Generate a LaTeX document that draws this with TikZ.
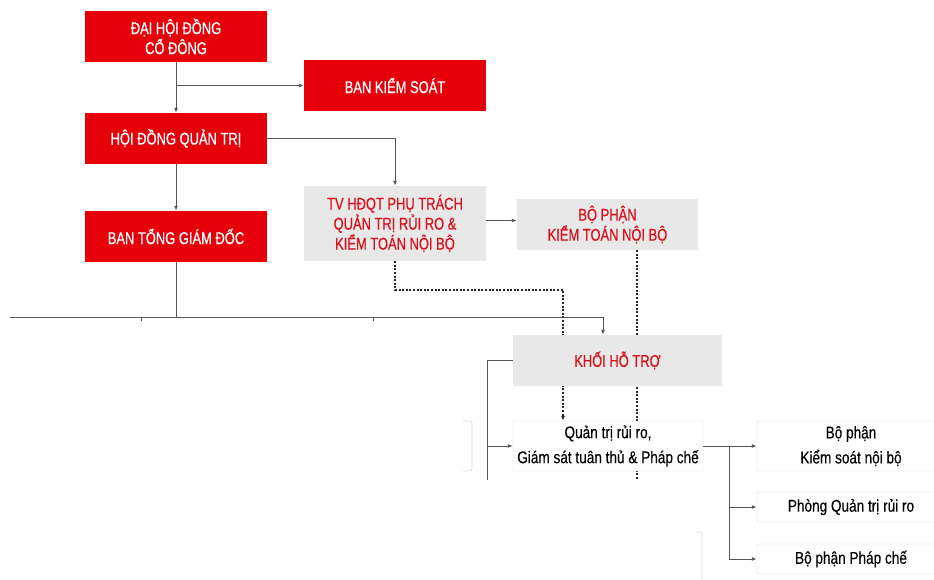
\documentclass[tikz,border=0pt]{standalone}
\usepackage{fontspec}
\setmainfont{Liberation Sans}
\newfontfamily\capsfont{Liberation Sans}[FakeStretch=0.76, FakeBold=0.6]
\newfontfamily\bodyfont{Liberation Sans}[FakeStretch=0.8, FakeBold=0.3]
\usetikzlibrary{arrows.meta,backgrounds}
\definecolor{hdred}{RGB}{230,0,10}
\definecolor{hdtext}{RGB}{215,20,30}
\definecolor{boxgray}{RGB}{232,232,232}
\definecolor{edgegray}{RGB}{218,218,218}
\definecolor{conngray}{RGB}{85,85,85}

\begin{document}
\begin{tikzpicture}[x=1pt, y=-1pt,
	redbox/.style={fill=hdred, text=white, minimum width=182pt, minimum height=51pt, inner sep=0pt, align=center, font=\capsfont\fontsize{17}{20}\selectfont},
	graybox/.style={fill=boxgray, text=hdtext, minimum height=51pt, inner sep=0pt, align=center, font=\capsfont\fontsize{17}{20}\selectfont},
	whitebox/.style={draw=edgegray, fill=white, rounded corners=2pt, minimum height=50pt, inner sep=0pt, align=center, font=\bodyfont\fontsize{17}{25}\selectfont},
	conn/.style={draw=conngray, line width=1pt},
	link/.style={conn, -{Latex[length=5pt,width=4pt]}},
	dotlink/.style={draw=black!85, line width=1.8pt, dash pattern=on 2pt off 1.6pt},
	frag/.style={draw=edgegray, line width=0.8pt}]
		\useasboundingbox (0,0) rectangle (934,580);
		\clip (0,0) rectangle (934,580);
		
		\node[redbox] (dhdcd) at (176, 36.5) {ĐẠI HỘI ĐỒNG\\CỔ ĐÔNG};
		\node[redbox] (bks) at (395, 85.5) {BAN KIỂM SOÁT};
		\node[redbox] (hdqt) at (176, 138.5) {HỘI ĐỒNG QUẢN TRỊ};
		\node[redbox] (btgd) at (176, 236.5) {BAN TỔNG GIÁM ĐỐC};
		
		\node[graybox, minimum width=182pt, minimum height=75pt] (tv) at (395, 223.5) {TV HĐQT PHỤ TRÁCH\\QUẢN TRỊ RỦI RO \&\\KIỂM TOÁN NỘI BỘ};
		\node[graybox, minimum width=181pt] (bpktnb) at (607.5, 224.5) {BỘ PHẬN\\KIỂM TOÁN NỘI BỘ};
		\node[graybox, minimum width=209pt] (khtt) at (617.5, 360.5) {KHỐI HỖ TRỢ};
		
		\node[whitebox, minimum width=190pt] (qtrr) at (608, 446) {Quản trị rủi ro,\\Giám sát tuân thủ \& Pháp chế};
		\node[whitebox, minimum width=188pt] (bpksnb) at (851, 446) {Bộ phận\\Kiểm soát nội bộ};
		\node[whitebox, minimum width=188pt, minimum height=30pt] (pqtrr) at (851, 507) {Phòng Quản trị rủi ro};
		\node[whitebox, minimum width=188pt, minimum height=30pt] (bppc) at (851, 559) {Bộ phận Pháp chế};
		
		% faded pieces of cut-off boxes
		\draw[frag, rounded corners=2pt] (463, 421) -- (472, 421) -- (472, 471) -- (463, 471);
		\draw[frag, rounded corners=2pt] (696, 532) -- (702, 532) -- (702, 580);
		
		\coordinate (busL) at (10, 317);
		\coordinate (busR) at (603, 317);
		\coordinate (dj) at (563, 290);
		\coordinate (dend) at (637, 480);
		\coordinate (brk) at (487, 446);
		\coordinate (brkend) at (487, 480);
		\coordinate (rb) at (729, 446);
		
		\begin{pgfonlayer}{background}
			\draw[dotlink, -{Latex[length=5pt,width=4pt]}] (tv.south) |- (dj) -- (dj |- qtrr.north);
			\draw[dotlink] (bpktnb.south -| dend) -- (dend);
		\end{pgfonlayer}
		
		\draw[link] (dhdcd) -- (hdqt);
		\draw[link] (dhdcd.south |- bks.west) -- (bks.west);
		\draw[link] (hdqt.east) -| (tv.north);
		\draw[link] (hdqt) -- (btgd);
		\draw[link] ([yshift=3pt]tv.east) -- ([yshift=3pt]tv.east -| bpktnb.west);
		
		\draw[conn] (btgd.south) -- (btgd.south |- busL);
		\draw[conn] (busL) -- (busR);
		\draw[link] (busR) -- (busR |- khtt.north);
		\foreach \x in {141, 373}
			\draw[conn] (\x, 317) -- (\x, 321);
		
		\draw[conn] (khtt.west) -| (brkend);
		\draw[link] (brk) -- (qtrr.west);
		
		\draw[link] (qtrr.east) -- (bpksnb.west);
		\draw[conn] (rb) -- (rb |- bppc.west);
		\draw[link] (rb |- pqtrr.west) -- (pqtrr.west);
		\draw[link] (rb |- bppc.west) -- (bppc.west);
	\end{tikzpicture}
\end{document}
